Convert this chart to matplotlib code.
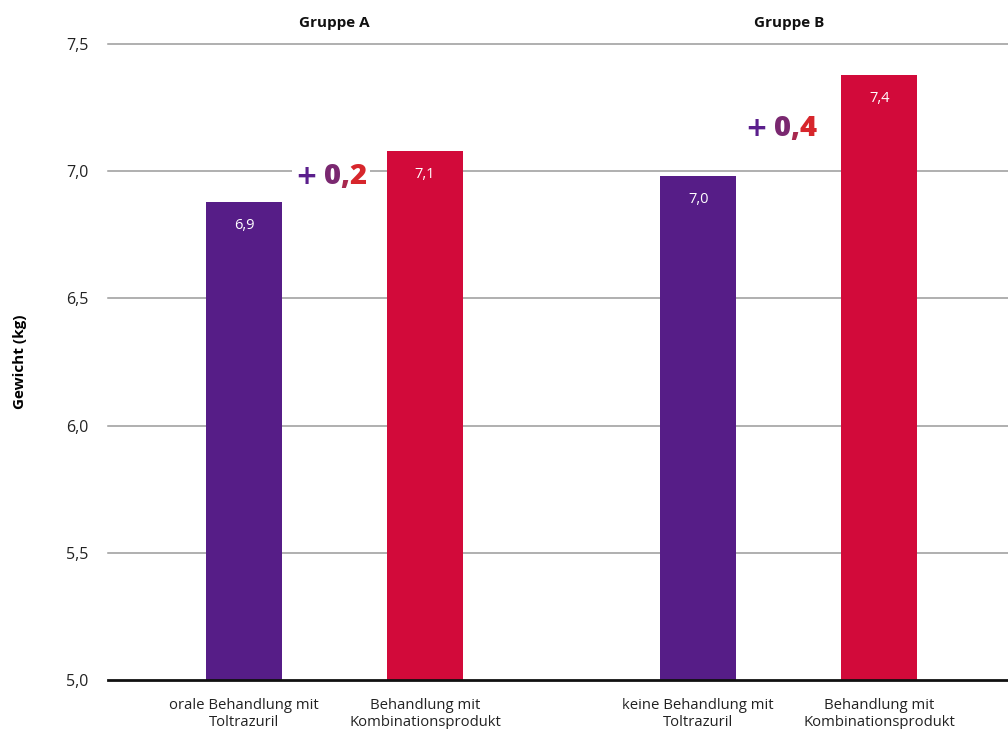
import matplotlib
matplotlib.use("Agg")
import matplotlib.pyplot as plt
import matplotlib.transforms as mtransforms

plt.rcParams['font.family'] = ['Open Sans', 'DejaVu Sans']

groups = ["Gruppe A", "Gruppe B"]
categories = ["orale Behandlung mit\nToltrazuril", "Behandlung mit\nKombinationsprodukt",
              "keine Behandlung mit\nToltrazuril", "Behandlung mit\nKombinationsprodukt"]
values = [6.88, 7.08, 6.98, 7.38]
value_labels = ["6,9", "7,1", "7,0", "7,4"]
diff_labels = ["0,2", "0,4"]
yticks = [5.0, 5.5, 6.0, 6.5, 7.0, 7.5]
ytick_labels = ["5,0", "5,5", "6,0", "6,5", "7,0", "7,5"]

positions = [0, 1, 2.51, 3.51]
purple = "#561D87"
red = "#D20A3A"
colors = [purple, red, purple, red]

fig = plt.figure(figsize=(10.08, 7.29), dpi=100)
ax = fig.add_axes([108/1008, 1 - 680/729, 900/1008, 636/729])

ax.bar(positions, [v - 5.0 for v in values], bottom=5.0, width=0.42, color=colors, zorder=3)
ax.set_xlim(-0.751, 4.221)
ax.set_ylim(5.0, 7.5)

for y in yticks[1:]:
    ax.axhline(y, color="#9a9a9a", lw=1.1, zorder=1, clip_on=False)
ax.axhline(5.0, color="#111111", lw=2.0, zorder=4, clip_on=False)

ax.set_yticks(yticks)
ax.set_yticklabels(ytick_labels, fontsize=11.5, color="#222222")
ax.tick_params(axis='y', length=0, pad=14)
ax.set_xticks(positions)
ax.set_xticklabels(categories, fontsize=10.7, color="#222222", linespacing=1.15)
ax.tick_params(axis='x', length=0, pad=13)
for s in ax.spines.values():
    s.set_visible(False)

for p, v, lab in zip(positions, values, value_labels):
    ax.annotate(lab, xy=(p, v), xytext=(0, -17), textcoords="offset points",
                ha="center", va="center", color="white", fontsize=10.5, zorder=5)

ax.set_ylabel("Gewicht (kg)", fontsize=11, fontweight="bold", labelpad=28)

# group titles
title_tr = mtransforms.offset_copy(ax.get_xaxis_transform(), fig=fig, y=10, units='points')
for g, x in zip(groups, [(positions[0] + positions[1]) / 2, (positions[2] + positions[3]) / 2]):
    ax.text(x, 1.0, g, transform=title_tr, ha="center", va="bottom",
            fontsize=11, fontweight="bold", color="#111111")

# gradient diff annotations
char_colors = ["#5B1F8C", "#7A2870", "#A8284E", "#D7262C"]
diff_pos = [(0.486, 6.99), (2.972, 7.178)]


def chain(x, y, lab, background):
    yb = y - 0.041
    kw = {}
    if background:
        kw = dict(bbox=dict(facecolor="white", edgecolor="none", pad=2.5))
    z = 2 if background else 6
    cols = ["white"] * 4 if background else char_colors
    prev = ax.text(x - 0.20, yb, "+", ha="left", va="baseline", fontsize=19,
                   fontweight="bold", family=["DejaVu Sans"], color=cols[0],
                   zorder=z, **kw)
    prev = ax.annotate("\u2009", xy=(1, yb), xycoords=(prev, "data"), ha="left",
                       va="baseline", fontsize=21, zorder=z, family=["DejaVu Sans"], **kw)
    for ch, c in zip(list(lab), cols[1:]):
        prev = ax.annotate(ch, xy=(1, yb), xycoords=(prev, "data"), ha="left",
                           va="baseline", fontsize=21, fontweight="heavy", color=c,
                           zorder=z, **kw)


for (x, y), lab in zip(diff_pos, diff_labels):
    chain(x, y, lab, True)
    chain(x, y, lab, False)

fig.savefig("out.png", dpi=100)
